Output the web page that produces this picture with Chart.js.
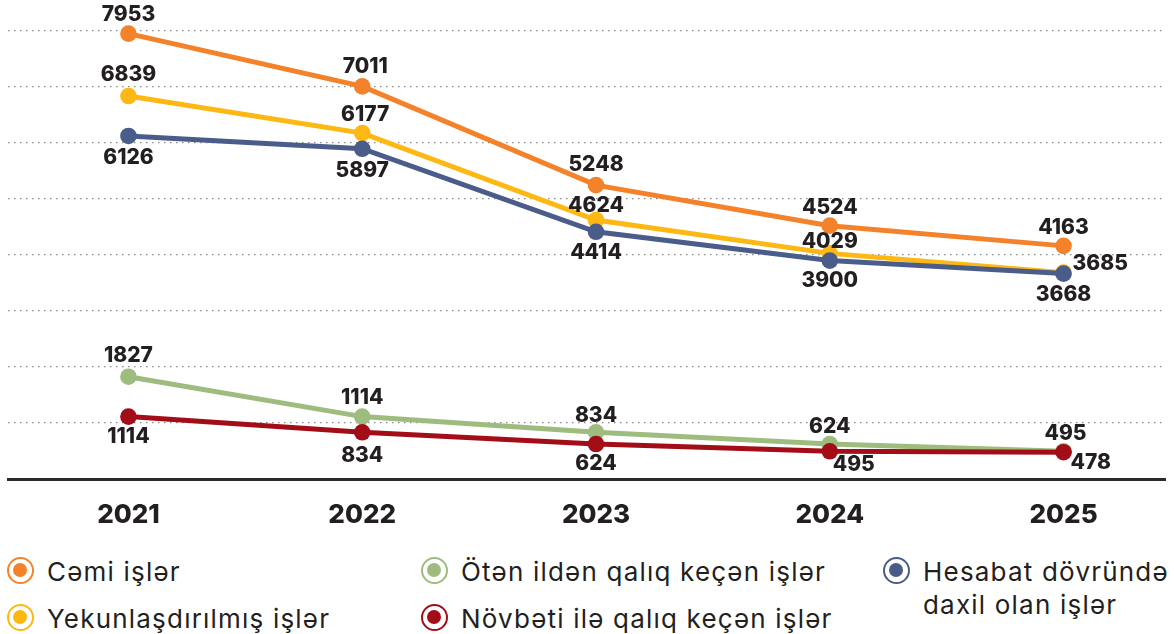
<!DOCTYPE html>
<html><head><meta charset="utf-8">
<script src="https://cdn.jsdelivr.net/npm/chart.js@4.4.1/dist/chart.umd.min.js"></script>
<style>
html,body{margin:0;padding:0;background:#fff;overflow:hidden;width:1174px;height:634px;}
#wrap{position:relative;width:1174px;height:634px;overflow:hidden;}
#c{position:absolute;left:0;top:0;}
.leg{position:absolute;font-family:Inter,"Open Sans",sans-serif;font-size:26px;letter-spacing:1.2px;color:#231f20;white-space:nowrap;line-height:33px;}
.mk{position:absolute;width:27px;height:27px;border-radius:50%;border:2.6px solid;box-sizing:border-box;background:#fff;}
.mk i{position:absolute;left:50%;top:50%;width:14px;height:14px;margin:-7px 0 0 -7px;border-radius:50%;}
</style></head>
<body>
<div id="wrap">
<canvas id="c" width="1174" height="545"></canvas>
<div id="legend"></div>
</div>
<script>
// ---- data ----
const years = [2021, 2022, 2023, 2024, 2025];
const cemiIsler = [7953, 7011, 5248, 4524, 4163];
const yekunIsler = [6839, 6177, 4624, 4029, 3685];
const hesabatIsler = [6126, 5897, 4414, 3900, 3668];
const otenIsler = [1827, 1114, 834, 624, 495];
const novbetiIsler = [1114, 834, 624, 495, 478];
const seriesNames = ["Cəmi işlər", "Yekunlaşdırılmış işlər", "Ötən ildən qalıq keçən işlər", "Növbəti ilə qalıq keçən işlər", "Hesabat dövründə daxil olan işlər"];
const yTicks = [0, 1000, 2000, 3000, 4000, 5000, 6000, 7000, 8000];

// ---- styles ----
const colors = {cemi:"#F4822A", yekun:"#FDB813", hesabat:"#4A5C8A", oten:"#9DBC7D", novbeti:"#A30D18"};
// label offsets (dx, dy, align) per point
const labelOffsets = {
  cemi:    [[0,-19],[3,-20],[0,-20],[0,-18],[0,-18]],
  yekun:   [[0,-21],[3,-18],[0,-14],[0,-12],[9,-9,'left']],
  hesabat: [[0,22],[0,22],[0,21],[0,20],[0,21]],
  oten:    [[0,-21],[0,-19],[0,-17],[0,-17],[2,-18]],
  novbeti: [[0,20],[0,23],[0,20],[3,13,'left'],[7,10,'left']]
};

function pts(arr){ return arr.map((v,i)=>({x:years[i], y:v})); }
function ds(key, label, arr, order){
  return {key, label, data:pts(arr), borderColor:colors[key], backgroundColor:colors[key],
    pointBackgroundColor:colors[key], pointBorderWidth:0, pointRadius:8.3, pointHoverRadius:8.3,
    borderWidth:5, tension:0, order, clip:false};
}

const labelPlugin = {
  id:'vlabels',
  afterDatasetsDraw(chart){
    const ctx = chart.ctx;
    ctx.save();
    ctx.font = '800 21px Inter, "Open Sans", sans-serif';
    ctx.fillStyle = '#231f20';
    ctx.textBaseline = 'middle';
    chart.data.datasets.forEach((d, di)=>{
      const meta = chart.getDatasetMeta(di);
      meta.data.forEach((el, i)=>{
        const off = labelOffsets[d.key][i];
        ctx.textAlign = off[2] || 'center';
        ctx.fillText(String(d.data[i].y), el.x + off[0], el.y + off[1]);
      });
    });
    ctx.restore();
  }
};

new Chart(document.getElementById('c'), {
  type:'line',
  data:{ datasets:[
    ds('cemi', seriesNames[0], cemiIsler, 1),
    ds('hesabat', seriesNames[4], hesabatIsler, 2),
    ds('yekun', seriesNames[1], yekunIsler, 3),
    ds('novbeti', seriesNames[3], novbetiIsler, 4),
    ds('oten', seriesNames[2], otenIsler, 5)
  ]},
  options:{
    responsive:false, animation:false, devicePixelRatio:1,
    layout:{padding:{top:31, left:8, right:0, bottom:0}},
    plugins:{legend:{display:false}, tooltip:{enabled:false}},
    scales:{
      x:{type:'linear', min:2020.486, max:2025.437,
        afterFit(s){ s.height = 545 - 479; },
        grid:{display:false, drawTicks:false},
        border:{display:true, color:'#2b2b2b', width:3},
        ticks:{stepSize:1, includeBounds:false, autoSkip:false, maxRotation:0, padding:21,
          color:'#231f20', font:{family:'Inter, "Open Sans", sans-serif', size:26, weight:'800'},
          callback:(v)=> Number.isInteger(v) ? String(v) : ''}
      },
      y:{min:yTicks[0], max:yTicks[yTicks.length-1],
        afterBuildTicks(s){ s.ticks = yTicks.map(v=>({value:v})); },
        ticks:{display:false},
        grid:{color:'#8a8a8a', lineWidth:1.3, drawTicks:false},
        border:{display:false, dash:[1.5,4.5]}
      }
    }
  },
  plugins:[labelPlugin]
});

// ---- HTML legend ----
const legendItems = [
  {name:seriesNames[0], key:'cemi', x:20, y:570},
  {name:seriesNames[1], key:'yekun', x:20, y:617},
  {name:seriesNames[2], key:'oten', x:434, y:570},
  {name:seriesNames[3], key:'novbeti', x:434, y:617},
  {name:seriesNames[4], key:'hesabat', x:896, y:570, wrap:true}
];
const lg = document.getElementById('legend');
legendItems.forEach(it=>{
  const m = document.createElement('div');
  m.className='mk'; m.style.left=(it.x-13.5)+'px'; m.style.top=(it.y-13.5)+'px'; m.style.borderColor=colors[it.key];
  const dot = document.createElement('i'); dot.style.background=colors[it.key]; m.appendChild(dot);
  lg.appendChild(m);
  const t = document.createElement('div');
  t.className='leg'; t.style.left=(it.x+27)+'px'; t.style.top=(it.y-15)+'px';
  if(it.wrap){ t.style.whiteSpace='normal'; t.style.width='300px'; }
  t.textContent = it.name;
  lg.appendChild(t);
});
</script>
</body></html>
